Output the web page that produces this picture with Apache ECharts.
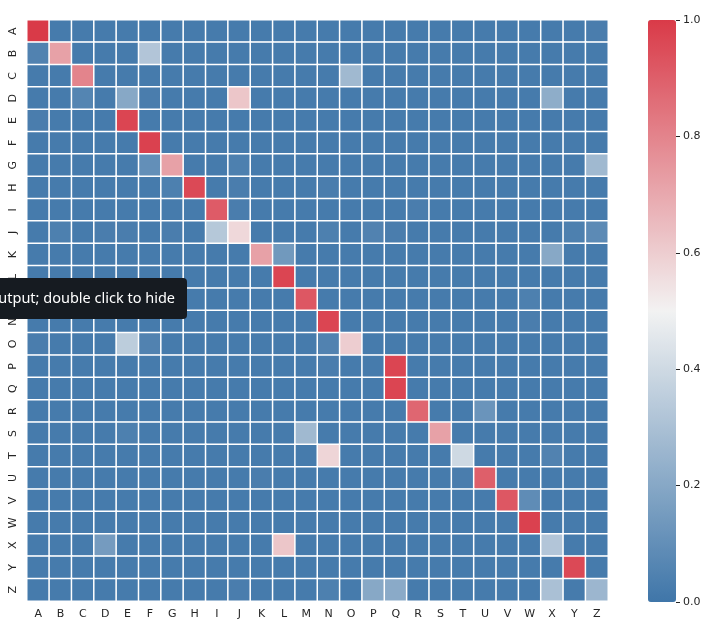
<!DOCTYPE html>
<html>
<head>
<meta charset="utf-8">
<script src="https://cdn.jsdelivr.net/npm/echarts@6/dist/echarts.min.js"></script>
<style>
  html, body { margin: 0; padding: 0; background: #fff; }
  #chart { width: 711px; height: 636px; }
</style>
</head>
<body>
<div id="chart"></div>
<script>
const letters = ['A', 'B', 'C', 'D', 'E', 'F', 'G', 'H', 'I', 'J', 'K', 'L', 'M',
  'N', 'O', 'P', 'Q', 'R', 'S', 'T', 'U', 'V', 'W', 'X', 'Y', 'Z']

// one row per letter, columns A..Z
const corr = [
  [1.00, 0.02, 0.02, 0.02, 0.02, 0.02, 0.02, 0.02, 0.02, 0.02, 0.02, 0.02, 0.02, 0.02, 0.02, 0.02, 0.02, 0.02, 0.02, 0.02, 0.02, 0.02, 0.02, 0.02, 0.02, 0.03],
  [0.05, 0.72, 0.02, 0.02, 0.02, 0.32, 0.02, 0.02, 0.02, 0.02, 0.02, 0.02, 0.02, 0.02, 0.02, 0.02, 0.02, 0.02, 0.02, 0.02, 0.02, 0.02, 0.02, 0.02, 0.02, 0.02],
  [0.02, 0.02, 0.80, 0.02, 0.02, 0.02, 0.02, 0.02, 0.02, 0.02, 0.02, 0.02, 0.02, 0.02, 0.27, 0.02, 0.02, 0.02, 0.02, 0.02, 0.02, 0.02, 0.02, 0.02, 0.02, 0.02],
  [0.02, 0.02, 0.06, 0.02, 0.20, 0.03, 0.02, 0.02, 0.02, 0.62, 0.02, 0.02, 0.02, 0.02, 0.02, 0.02, 0.02, 0.02, 0.02, 0.02, 0.02, 0.02, 0.02, 0.22, 0.02, 0.02],
  [0.03, 0.02, 0.02, 0.02, 0.97, 0.02, 0.02, 0.02, 0.02, 0.02, 0.02, 0.02, 0.02, 0.02, 0.02, 0.02, 0.02, 0.02, 0.02, 0.02, 0.02, 0.02, 0.02, 0.02, 0.02, 0.02],
  [0.02, 0.02, 0.02, 0.02, 0.02, 0.98, 0.02, 0.02, 0.02, 0.02, 0.02, 0.02, 0.02, 0.02, 0.02, 0.02, 0.02, 0.02, 0.02, 0.02, 0.02, 0.02, 0.02, 0.02, 0.02, 0.02],
  [0.02, 0.02, 0.02, 0.02, 0.02, 0.10, 0.72, 0.02, 0.02, 0.04, 0.02, 0.02, 0.02, 0.02, 0.02, 0.02, 0.02, 0.02, 0.02, 0.02, 0.02, 0.02, 0.02, 0.02, 0.02, 0.27],
  [0.02, 0.02, 0.02, 0.02, 0.02, 0.02, 0.04, 0.96, 0.02, 0.03, 0.02, 0.02, 0.02, 0.03, 0.02, 0.02, 0.02, 0.02, 0.02, 0.02, 0.02, 0.02, 0.02, 0.02, 0.02, 0.02],
  [0.02, 0.02, 0.02, 0.02, 0.02, 0.02, 0.02, 0.02, 0.91, 0.03, 0.02, 0.02, 0.02, 0.02, 0.02, 0.02, 0.02, 0.03, 0.02, 0.02, 0.02, 0.02, 0.02, 0.02, 0.02, 0.02],
  [0.02, 0.04, 0.02, 0.03, 0.03, 0.02, 0.03, 0.02, 0.33, 0.57, 0.02, 0.02, 0.02, 0.04, 0.02, 0.05, 0.03, 0.02, 0.02, 0.02, 0.02, 0.02, 0.02, 0.02, 0.04, 0.08],
  [0.02, 0.02, 0.02, 0.02, 0.02, 0.02, 0.02, 0.02, 0.02, 0.02, 0.72, 0.14, 0.02, 0.02, 0.02, 0.02, 0.02, 0.02, 0.02, 0.02, 0.02, 0.02, 0.02, 0.20, 0.02, 0.02],
  [0.02, 0.02, 0.02, 0.02, 0.02, 0.02, 0.02, 0.02, 0.02, 0.02, 0.02, 0.97, 0.02, 0.02, 0.02, 0.02, 0.02, 0.02, 0.02, 0.02, 0.02, 0.02, 0.02, 0.02, 0.02, 0.02],
  [0.02, 0.02, 0.02, 0.02, 0.02, 0.02, 0.02, 0.02, 0.02, 0.02, 0.02, 0.02, 0.92, 0.02, 0.02, 0.02, 0.02, 0.02, 0.02, 0.02, 0.02, 0.02, 0.04, 0.02, 0.02, 0.02],
  [0.02, 0.02, 0.02, 0.02, 0.02, 0.02, 0.02, 0.02, 0.02, 0.02, 0.02, 0.02, 0.02, 0.97, 0.02, 0.02, 0.02, 0.02, 0.02, 0.02, 0.02, 0.02, 0.03, 0.02, 0.02, 0.02],
  [0.03, 0.02, 0.02, 0.02, 0.35, 0.05, 0.02, 0.02, 0.02, 0.02, 0.02, 0.02, 0.02, 0.05, 0.60, 0.02, 0.02, 0.02, 0.02, 0.02, 0.02, 0.02, 0.02, 0.02, 0.02, 0.02],
  [0.02, 0.02, 0.02, 0.02, 0.02, 0.02, 0.02, 0.02, 0.02, 0.02, 0.02, 0.02, 0.02, 0.03, 0.02, 0.02, 0.97, 0.02, 0.02, 0.02, 0.02, 0.02, 0.02, 0.02, 0.02, 0.02],
  [0.02, 0.02, 0.02, 0.02, 0.02, 0.02, 0.02, 0.02, 0.02, 0.02, 0.02, 0.02, 0.02, 0.02, 0.02, 0.02, 0.97, 0.02, 0.02, 0.02, 0.02, 0.02, 0.02, 0.02, 0.02, 0.02],
  [0.02, 0.02, 0.02, 0.02, 0.02, 0.02, 0.02, 0.02, 0.02, 0.02, 0.02, 0.02, 0.02, 0.02, 0.02, 0.02, 0.02, 0.88, 0.02, 0.02, 0.12, 0.02, 0.02, 0.02, 0.02, 0.02],
  [0.02, 0.02, 0.02, 0.02, 0.04, 0.02, 0.02, 0.02, 0.02, 0.02, 0.02, 0.02, 0.27, 0.02, 0.02, 0.02, 0.02, 0.02, 0.72, 0.02, 0.02, 0.02, 0.02, 0.02, 0.02, 0.02],
  [0.02, 0.02, 0.02, 0.02, 0.02, 0.02, 0.02, 0.02, 0.02, 0.02, 0.02, 0.02, 0.02, 0.58, 0.02, 0.02, 0.02, 0.02, 0.02, 0.40, 0.02, 0.02, 0.02, 0.05, 0.02, 0.02],
  [0.02, 0.02, 0.02, 0.02, 0.02, 0.02, 0.02, 0.02, 0.02, 0.02, 0.03, 0.02, 0.02, 0.02, 0.02, 0.02, 0.02, 0.02, 0.02, 0.03, 0.90, 0.02, 0.02, 0.02, 0.02, 0.02],
  [0.02, 0.02, 0.02, 0.02, 0.02, 0.02, 0.02, 0.02, 0.02, 0.02, 0.02, 0.02, 0.02, 0.02, 0.02, 0.02, 0.02, 0.02, 0.02, 0.02, 0.02, 0.92, 0.09, 0.02, 0.02, 0.02],
  [0.02, 0.02, 0.02, 0.02, 0.02, 0.02, 0.02, 0.02, 0.02, 0.02, 0.02, 0.02, 0.02, 0.02, 0.02, 0.02, 0.02, 0.02, 0.02, 0.02, 0.02, 0.02, 0.98, 0.02, 0.02, 0.02],
  [0.02, 0.02, 0.02, 0.15, 0.02, 0.02, 0.02, 0.02, 0.02, 0.02, 0.02, 0.62, 0.02, 0.02, 0.02, 0.02, 0.02, 0.02, 0.02, 0.02, 0.02, 0.02, 0.02, 0.32, 0.02, 0.02],
  [0.02, 0.02, 0.02, 0.02, 0.02, 0.02, 0.02, 0.02, 0.02, 0.02, 0.02, 0.02, 0.02, 0.02, 0.02, 0.02, 0.02, 0.02, 0.02, 0.02, 0.02, 0.02, 0.02, 0.02, 0.96, 0.02],
  [0.02, 0.02, 0.02, 0.02, 0.02, 0.02, 0.02, 0.02, 0.02, 0.03, 0.02, 0.02, 0.02, 0.04, 0.02, 0.20, 0.21, 0.02, 0.02, 0.02, 0.02, 0.02, 0.02, 0.30, 0.02, 0.26]
]

const barTicks = [0, 0.2, 0.4, 0.6, 0.8, 1.0]
const palette = ['#3f76a9', '#f2f2f2', '#d93a48']

const cells = []
corr.forEach((row, y) => {
  row.forEach((v, x) => {
    cells.push([x, y, v])
  })
})

const textColor = '#262626'
const font = 'DejaVu Sans'

const chart = echarts.init(document.getElementById('chart'))
chart.setOption({
  animation: false,
  grid: [
    { left: 27, top: 20, width: 581, height: 581 },
    { left: 648, top: 20, width: 28, height: 582 }
  ],
  xAxis: [{
    gridIndex: 0,
    type: 'category',
    data: letters,
    axisLine: { show: false },
    axisTick: { alignWithLabel: true, length: 4, lineStyle: { color: textColor } },
    axisLabel: { color: textColor, fontSize: 11, fontFamily: font, margin: 8 },
    splitLine: { show: false }
  }, {
    gridIndex: 1,
    type: 'value',
    min: 0,
    max: 1,
    show: false
  }],
  yAxis: [{
    gridIndex: 0,
    type: 'category',
    data: letters,
    inverse: true,
    axisLine: { show: false },
    axisTick: { alignWithLabel: true, length: 4, lineStyle: { color: textColor } },
    axisLabel: { color: textColor, fontSize: 11, fontFamily: font, rotate: 90, margin: 8 },
    splitLine: { show: false }
  }, {
    gridIndex: 1,
    type: 'value',
    position: 'right',
    min: 0,
    max: 1,
    interval: 0.2,
    axisLine: { show: false, onZero: false },
    axisTick: { show: true, length: 4, lineStyle: { color: textColor } },
    axisLabel: {
      color: textColor, fontSize: 11, fontFamily: font, margin: 7,
      formatter: v => (barTicks.includes(v) ? v.toFixed(1) : '')
    },
    splitLine: { show: false }
  }],
  visualMap: {
    type: 'continuous',
    seriesIndex: 0,
    min: 0,
    max: 1,
    calculable: false,
    hoverLink: false,
    left: 648,
    top: 20,
    padding: 0,
    itemWidth: 28,
    itemHeight: 582,
    borderRadius: 0,
    text: null,
    inRange: { color: palette }
  },
  graphic: [{
    type: 'rect',
    shape: { x: -20, y: 278, width: 207, height: 41, r: 4 },
    style: { fill: '#161b21' },
    z: 100
  }, {
    type: 'text',
    x: 175,
    y: 299,
    style: {
      text: 'Click to scroll output; double click to hide',
      fill: '#ffffff',
      font: '14.5px "Noto Sans"',
      textAlign: 'right',
      textVerticalAlign: 'middle'
    },
    z: 101
  }],
  series: [{
    type: 'heatmap',
    xAxisIndex: 0,
    yAxisIndex: 0,
    data: cells,
    itemStyle: { borderColor: '#ffffff', borderWidth: 1.5 },
    emphasis: { disabled: true }
  }]
})
</script>
</body>
</html>
